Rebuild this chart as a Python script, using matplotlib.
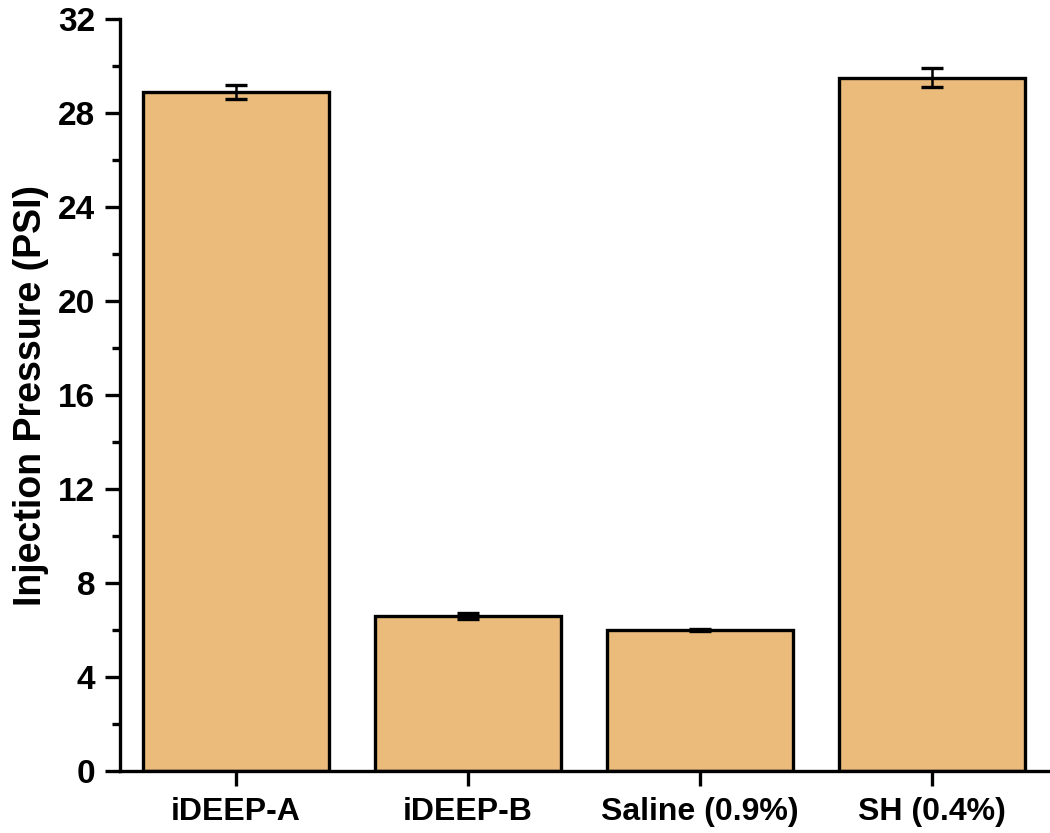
import matplotlib
matplotlib.use("Agg")
import matplotlib.pyplot as plt
from matplotlib.ticker import MultipleLocator

# dados
amostras = ["iDEEP-A", "iDEEP-B", "Saline (0.9%)", "SH (0.4%)"]
pressao = [28.9, 6.6, 6.0, 29.5]
erro = [0.3, 0.12, 0.06, 0.4]

plt.rcParams["font.family"] = ["Liberation Sans", "DejaVu Sans"]
plt.rcParams["font.weight"] = "bold"

fig = plt.figure(figsize=(10.5, 8.33), dpi=100)
ax = fig.add_axes([120 / 1050, 62 / 833, 928 / 1050, 752 / 833])

x = range(len(amostras))
ax.bar(x, pressao, width=0.8, color="#EABB7B", edgecolor="black", linewidth=2.4, zorder=2)
ax.errorbar(x, pressao, yerr=erro, fmt="none", ecolor="black", elinewidth=1.8,
            capsize=8, capthick=2.4, zorder=3)

ax.set_xlim(-0.5, 3.5)
ax.set_ylim(0, 32)
ax.yaxis.set_major_locator(MultipleLocator(4))
ax.yaxis.set_minor_locator(MultipleLocator(2))
ax.set_xticks(list(x))
ax.set_xticklabels(amostras, fontsize=23, fontweight="bold")

for lbl in ax.get_yticklabels():
    lbl.set_fontsize(24)
    lbl.set_fontweight("bold")

ax.tick_params(axis="y", which="major", direction="out", length=11, width=2.4, pad=7)
ax.tick_params(axis="y", which="minor", direction="out", length=6, width=2.4)
ax.tick_params(axis="x", which="major", direction="out", length=11, width=2.4, pad=8)

for s in ["top", "right"]:
    ax.spines[s].set_visible(False)
for s in ["left", "bottom"]:
    ax.spines[s].set_linewidth(2.4)

ax.set_ylabel("Injection Pressure (PSI)", fontsize=27, fontweight="bold", labelpad=6)

fig.savefig("out.png", dpi=100)
